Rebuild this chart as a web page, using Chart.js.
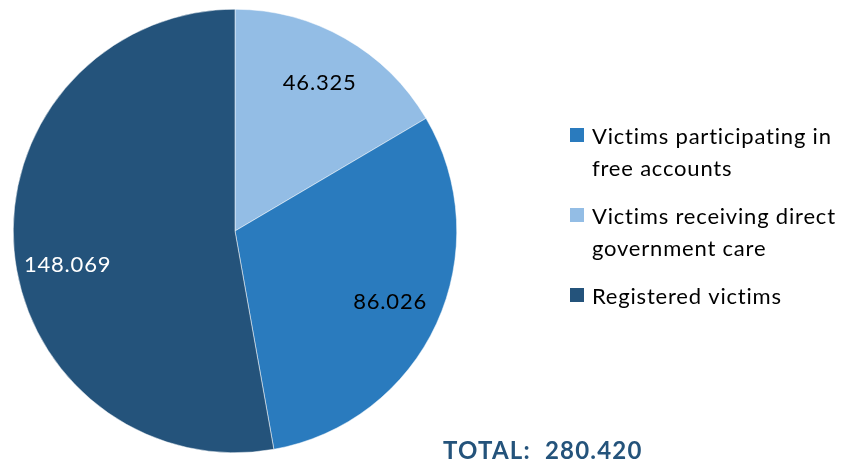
<!DOCTYPE html>
<html lang="en">
<head>
    <meta charset="UTF-8">
    <title>Victims pie chart</title>
    <script src="https://cdn.jsdelivr.net/npm/chart.js"></script>
    <style>
        html, body { margin: 0; padding: 0; background: #fff; }
        .wrap { position: relative; width: 844px; height: 463px; }
    </style>
</head>
<body>
    <div class="wrap">
        <canvas id="pieChart" width="844" height="463"></canvas>
    </div>

    <script>
        // data, in drawing order (clockwise from 12 o'clock)
        const categories = ['Victims receiving direct government care', 'Victims participating in free accounts', 'Registered victims'];
        const values = [46325, 86026, 148069];
        const legendLines = [['Victims receiving direct', 'government care'], ['Victims participating in', 'free accounts'], ['Registered victims']];
        const legendOrder = [1, 0, 2];
        const sliceColors = ['#93bde5', '#2a7bbe', '#24537b'];
        const labelColors = ['#000000', '#000000', '#ffffff'];
        const totalLabel = 'TOTAL:';

        const FONT = 'Lato, "Liberation Sans", sans-serif';

        function fmt(n) {
            return String(n).replace(/\B(?=(\d{3})+(?!\d))/g, '.');
        }

        const extras = {
            id: 'extras',
            afterDraw(chart, args, opts) {
                const ctx = chart.ctx;
                const meta = chart.getDatasetMeta(0);
                ctx.save();

                // value labels inside the slices
                ctx.font = '22px ' + FONT;
                ctx.letterSpacing = '0.8px';
                ctx.textAlign = 'center';
                ctx.textBaseline = 'middle';
                meta.data.forEach((arc, i) => {
                    const p = arc.getProps(['x', 'y', 'startAngle', 'endAngle', 'outerRadius'], true);
                    const mid = (p.startAngle + p.endAngle) / 2 + opts.angleShift[i];
                    const r = p.outerRadius * 0.77;
                    ctx.fillStyle = labelColors[i];
                    ctx.fillText(fmt(values[i]), p.x + Math.cos(mid) * r, p.y + Math.sin(mid) * r);
                });

                // legend on the right
                ctx.textAlign = 'left';
                ctx.textBaseline = 'alphabetic';
                ctx.font = '22px ' + FONT;
                ctx.letterSpacing = '0.8px';
                let y = 144;
                legendOrder.forEach(idx => {
                    ctx.fillStyle = sliceColors[idx];
                    ctx.fillRect(570, y - 16, 14, 14);
                    ctx.fillStyle = '#000';
                    legendLines[idx].forEach((line, k) => {
                        ctx.fillText(line, 592, y + k * 32, 250);
                    });
                    y += (legendLines[idx].length - 1) * 32 + 48;
                });

                // total under the legend
                const total = values.reduce((a, b) => a + b, 0);
                ctx.font = 'bold 24px ' + FONT;
                ctx.letterSpacing = '1.2px';
                ctx.fillStyle = '#24537b';
                ctx.fillText(totalLabel + '  ' + fmt(total), 443, 459);

                ctx.restore();
            }
        };

        new Chart(document.getElementById('pieChart'), {
            type: 'pie',
            data: {
                labels: categories,
                datasets: [{
                    data: values,
                    backgroundColor: sliceColors,
                    borderColor: '#ffffff',
                    borderWidth: 0.5
                }]
            },
            options: {
                responsive: false,
                animation: false,
                layout: { padding: { left: 13, right: 387, top: 9, bottom: 10 } },
                plugins: {
                    legend: { display: false },
                    tooltip: { enabled: false },
                    extras: { angleShift: [0, 0, -0.11] }
                }
            },
            plugins: [extras]
        });
    </script>
</body>
</html>
